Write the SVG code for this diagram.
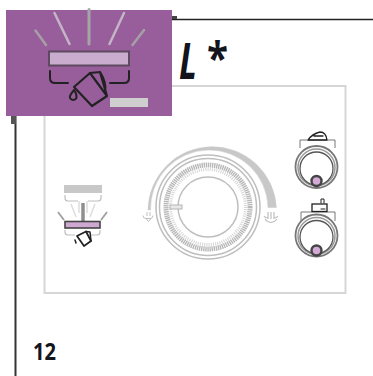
<svg xmlns="http://www.w3.org/2000/svg" width="373" height="376" viewBox="0 0 373 376">
<style>
.g{fill:none;stroke:#bebebe}
.d{fill:none;stroke:#222;stroke-linecap:round;stroke-linejoin:round}
.t{font-family:"Open Sans","Liberation Sans",Arial,sans-serif;font-weight:700;fill:#14141c}
</style>
<rect width="373" height="376" fill="#fff"/>
<g id="page-lines">
<path d="M172 19.500H373" stroke="#222" stroke-width="1.500" fill="none"/>
<path d="M15.500 116V376" stroke="#333" stroke-width="2" fill="none"/>
<rect x="11" y="116" width="5" height="8" fill="#555"/>
<path d="M172 16h5v3h-5z" fill="#444"/>
</g>
<g id="panel"><path d="M172 86H345.500V293H44.500V116" fill="none" stroke="#d6d6d6" stroke-width="2"/></g>
<g id="title"><text class="t" x="179" y="79" font-size="50" font-style="italic" textLength="18" lengthAdjust="spacingAndGlyphs">L</text><text class="t" x="207" y="74" font-size="44" textLength="21" lengthAdjust="spacingAndGlyphs">*</text></g>
<g id="badge">
<rect x="6" y="10" width="166" height="106" fill="#985d9b"/>
<g fill="none" stroke-linecap="round">
<path d="M89 9.500V44" stroke="#a5a5a5" stroke-width="3"/>
<path d="M54.500 13L69.500 44M124 13L109.500 44" stroke="#c4b5c6" stroke-width="2.500"/>
<path d="M35.500 30.500L46 45M144 30L132.500 45" stroke="#a5a0a5" stroke-width="2.500"/>
</g>
<rect x="49" y="51.500" width="80" height="14" fill="#caaccf" stroke="#5d4a60" stroke-width="2"/>
<path class="d" stroke-width="2" d="M50 71v7q0 5 5 5H68M129 71v7q0 5-5 5H110"/>
<path class="d" stroke-width="2.200" d="M74 87L90 73L107 96L92 106ZM90 73L100 72L107 96M100 72Q107 83 105 92"/>
<path class="d" stroke-width="2" d="M74 90Q69 96 70 98a3.700 3.700 0 0 0 6.500 0Q77 94 74 90Z"/>
<rect x="110" y="98" width="38" height="9" fill="#cfcfcf"/>
</g>
<g id="mini-icon">
<rect x="64" y="185" width="38" height="8" fill="#c8c8c8"/>
<path class="g" stroke-width="1.200" d="M65 195v3q0 3 3 3H78M101 195v3q0 3-3 3H88"/>
<path d="M83 203V221" stroke="#8f8f8f" stroke-width="3.500"/>
<path d="M79 201V213M87 201V213" stroke="#ddd" stroke-width="1.500"/>
<path d="M71 204L76 217M95 204L90 217" stroke="#ddd" stroke-width="1.500"/>
<path d="M58 212L64 220M107 212L101 220" stroke="#a0a0a0" stroke-width="1.800"/>
<rect x="65" y="221.500" width="35" height="6.500" fill="#cfa8d2" stroke="#444" stroke-width="1.600"/>
<path class="g" stroke-width="1.200" d="M65 230v2q0 3 3 3h7M100 230v2q0 3-3 3h-7"/>
<path class="d" stroke-width="1.800" d="M77 236L86 231.500L91 241L84 246Z"/>
<path class="d" stroke-width="1.500" d="M75 240L76 243M86 231.500L90 232L91 241"/>
</g>
<g id="dial">
<path d="M148 210A64.250 64.250 0 0 1 276.400 207.500L268 207.500A58.750 58.750 0 0 0 150.500 210Z" fill="#c8c8c8" stroke="#c8c8c8" stroke-width=".5" stroke-linejoin="round"/>
<circle class="g" cx="208" cy="207" r="52" stroke-width="1.500"/>
<circle class="g" cx="208" cy="207" r="48.500" stroke-width="1.500"/>
<circle cx="208" cy="207" r="42" fill="none" stroke="#b8b8b8" stroke-width="5" stroke-dasharray="1.400 0.700"/>
<circle cx="208" cy="207" r="37.500" fill="none" stroke="#d4d4d4" stroke-width="3" stroke-dasharray="1 1.200"/>
<circle cx="208" cy="207" r="30" fill="#fff" stroke="#bebebe" stroke-width="1.500"/>
<rect x="170" y="205" width="12" height="4" fill="#e8e8e8" stroke="#b5b5b5"/>
<path class="g" stroke-width="1" d="M147 212V216M150 212V216M143 215.500q0 3 3 3h4q3 0 3-3M146 218.500l2.500 3l2.500-3"/>
<path class="g" stroke-width="1.200" d="M268 212V219M271 212V219M274 212V219M268 218q-3 0-4-2M274 218q3 0 4-2M265 219q2 3 6 3.500q4-.5 6-3.500"/>
</g>
<g id="knob-top">
<path d="M300 148V140H335V148" fill="none" stroke="#777" stroke-width="1"/>
<path class="d" stroke-width="1.300" d="M308 140Q312 134 320 132Q326 132 327 140ZM314 136H323"/>
<circle cx="316.500" cy="167" r="21" fill="#fff" stroke="#777" stroke-width="1.800"/>
<circle cx="316.500" cy="167.500" r="18.500" fill="none" stroke="#999" stroke-width="1.500"/>
<circle cx="316.500" cy="168.500" r="16.500" fill="#fff" stroke="#555" stroke-width="1.300"/>
<circle cx="316.500" cy="181" r="5" fill="#d3a9d6" stroke="#444" stroke-width="2.400"/>
</g>
<g id="knob-bottom">
<path d="M301 221V212H335V221" fill="none" stroke="#777" stroke-width="1"/>
<rect x="312" y="204" width="15" height="7.500" fill="#fff" stroke="#222" stroke-width="1.300"/>
<path class="d" stroke-width="1" d="M321 203V199H324V203M321 209H325"/>
<circle cx="316.500" cy="235.500" r="21" fill="#fff" stroke="#777" stroke-width="1.800"/>
<circle cx="316.500" cy="236" r="18.500" fill="none" stroke="#999" stroke-width="1.500"/>
<circle cx="316.500" cy="237" r="16.500" fill="#fff" stroke="#555" stroke-width="1.300"/>
<circle cx="316.500" cy="250.500" r="5" fill="#d3a9d6" stroke="#444" stroke-width="2.400"/>
</g>
<g id="page-number"><text class="t" x="33" y="360" font-size="24" textLength="23" lengthAdjust="spacingAndGlyphs">12</text></g>
</svg>
